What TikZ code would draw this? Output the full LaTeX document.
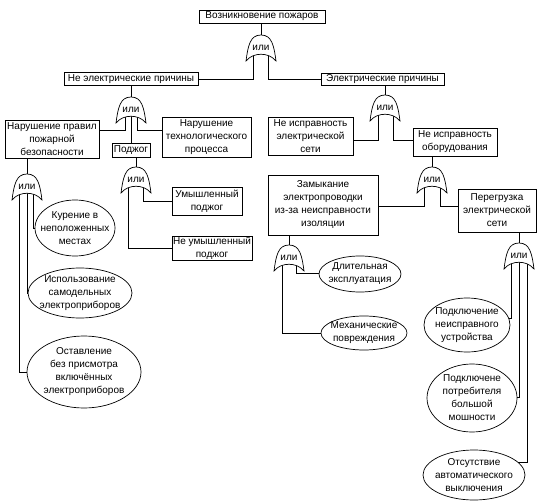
\documentclass[tikz,border=0pt]{standalone}
\usepackage{fontspec}
\setmainfont{Liberation Sans}
\usetikzlibrary{shapes.geometric,backgrounds}
\tikzset{
  box/.style={draw,line width=0.7pt,inner sep=0pt,align=center,font=\fontsize{10}{13}\selectfont},
  oval/.style={draw,ellipse,line width=0.7pt,inner sep=-25pt,align=center,font=\fontsize{10}{13}\selectfont},
  wire/.style={line width=0.7pt},
  gatebody/.style={draw,fill=white,line width=0.7pt},
  gatetext/.style={inner sep=0pt,font=\fontsize{10}{12}\selectfont},
}
\newcommand\orgatedraw[3]{%
  \draw[gatebody] (#2-15,#3+26) .. controls (#2-13,#3+11) and (#2-11,#3) .. (#2,#3)
    .. controls (#2+11,#3) and (#2+13,#3+11) .. (#2+15,#3+26)
    .. controls (#2+8,#3+17) and (#2-8,#3+17) .. cycle;
  \coordinate (#1top) at (#2,#3);
  \node[gatetext] (#1) at (#2,#3+13) {или};
}
\begin{document}
\begin{tikzpicture}[x=1pt,y=-1pt]
\useasboundingbox (0,0) rectangle (541,503);
% boxes
\node[box,minimum width=126,minimum height=13] (B0) at (262,16.5) {Возникновение пожаров};
\node[box,minimum width=134,minimum height=13] (NE) at (131,79) {Не электрические причины};
\node[box,minimum width=123,minimum height=12] (E) at (382.5,79.5) {Электрические причины};
\node[box,minimum width=94,minimum height=38] (NP) at (52,139) {Нарушение правил\\пожарной\\безопасности};
\node[box,minimum width=38,minimum height=14] (Pj) at (131,150) {Поджог};
\node[box,minimum width=89,minimum height=40] (TP) at (206.5,137) {Нарушение\\технологического\\процесса};
\node[box,minimum width=85,minimum height=38] (NS) at (310.5,136) {Не исправность\\электрической\\сети};
\node[box,minimum width=84,minimum height=28] (NO) at (455,142) {Не исправность\\оборудования};
\node[box,minimum width=70,minimum height=28] (UP) at (207,201) {Умышленный\\поджог};
\node[box,minimum width=80,minimum height=24] (NUP) at (212,248) {Не умышленный\\поджог};
\node[box,minimum width=110,minimum height=60] (Z) at (323,205) {Замыкание\\электропроводки\\из-за неисправности\\изоляции};
\node[box,minimum width=78,minimum height=43] (PS) at (497,210.5) {Перегрузка\\электрической\\сети};
% ellipses
\node[oval,minimum width=80,minimum height=56] (KN) at (75,228) {Курение в\\неположенных\\местах};
\node[oval,minimum width=104,minimum height=50] (IS) at (80,293) {Использование\\самодельных\\электроприборов};
\node[oval,minimum width=114,minimum height=72] (OB) at (84,372) {Оставление\\без присмотра\\включённых\\электроприборов};
\node[oval,minimum width=82,minimum height=36] (DE) at (360,274) {Длительная\\эксплуатация};
\node[oval,minimum width=86,minimum height=34] (ME) at (364,333) {Механические\\повреждения};
\node[oval,minimum width=86,minimum height=54] (PN) at (467,325) {Подключение\\неисправного\\устройства};
\node[oval,minimum width=90,minimum height=68] (PP) at (472,398) {Подключене\\потребителя\\большой\\мошности};
\node[oval,minimum width=102,minimum height=50] (OA) at (474,475) {Отсутствие\\автоматического\\выключения};
% gates
\orgatedraw{G0}{261}{35}
\orgatedraw{G1}{131}{97}
\orgatedraw{G2}{136}{167}
\orgatedraw{G3}{27}{174}
\orgatedraw{G4}{385}{95}
\orgatedraw{G5}{432}{167}
\orgatedraw{G6}{289}{245}
\orgatedraw{G7}{519}{243}
% elbows
\coordinate (e0a) at (253,79);
\coordinate (e0b) at (268,79);
\coordinate (e1a) at (125,130);
\coordinate (e1b) at (137,130);
\coordinate (e2a) at (143,201);
\coordinate (e2b) at (128,248);
\coordinate (e3a) at (33,228);
\coordinate (e3b) at (27,293);
\coordinate (e3c) at (19,372);
\coordinate (e4a) at (378,140);
\coordinate (e4b) at (393,140);
\coordinate (e5a) at (424,206);
\coordinate (e5b) at (440,206);
\coordinate (e6a) at (296,273);
\coordinate (e6b) at (282,333);
\coordinate (e7a) at (511,318);
\coordinate (e7b) at (519,397);
\coordinate (e7c) at (527,462);
\begin{scope}[on background layer]
\draw[wire] (G0top |- B0.south) -- (G0top);
\draw[wire] (G0 -| e0a) -- (e0a) -- (e0a -| NE.east);
\draw[wire] (G0 -| e0b) -- (e0b) -- (e0b -| E.west);
\draw[wire] (G1top |- NE.south) -- (G1top);
\draw[wire] (G1 -| e1a) -- (e1a) -- (e1a -| NP.east);
\draw[wire] (G1) -- (G1 |- Pj.north);
\draw[wire] (G1 -| e1b) -- (e1b) -- (e1b -| TP.west);
\draw[wire] (G2top |- Pj.south) -- (G2top);
\draw[wire] (G2 -| e2a) -- (e2a) -- (e2a -| UP.west);
\draw[wire] (G2 -| e2b) -- (e2b) -- (e2b -| NUP.west);
\draw[wire] (G3top |- NP.south) -- (G3top);
\draw[wire] (G3 -| e3a) -- (e3a) -- (e3a -| KN.west);
\draw[wire] (G3 -| e3b) -- (e3b) -- (e3b -| IS.west);
\draw[wire] (G3 -| e3c) -- (e3c) -- (e3c -| OB.west);
\draw[wire] (G4top |- E.south) -- (G4top);
\draw[wire] (G4 -| e4a) -- (e4a) -- (e4a -| NS.east);
\draw[wire] (G4 -| e4b) -- (e4b) -- (e4b -| NO.west);
\draw[wire] (G5top |- NO.south) -- (G5top);
\draw[wire] (G5 -| e5a) -- (e5a) -- (e5a -| Z.east);
\draw[wire] (G5 -| e5b) -- (e5b) -- (e5b -| PS.west);
\draw[wire] (G6top |- Z.south) -- (G6top);
\draw[wire] (G6 -| e6a) -- (e6a) -- (e6a -| DE.west);
\draw[wire] (G6 -| e6b) -- (e6b) -- (e6b -| ME.west);
\draw[wire] (G7top |- PS.south) -- (G7top);
\draw[wire] (G7 -| e7a) -- (e7a) -- (e7a -| PN.9.6);
\draw[wire] (G7 -| e7b) -- (e7b) -- (e7b -| PP.east);
\draw[wire] (G7 -| e7c) -- (e7c) -- (e7c -| OA.16.6);
\end{scope}
\end{tikzpicture}
\end{document}
